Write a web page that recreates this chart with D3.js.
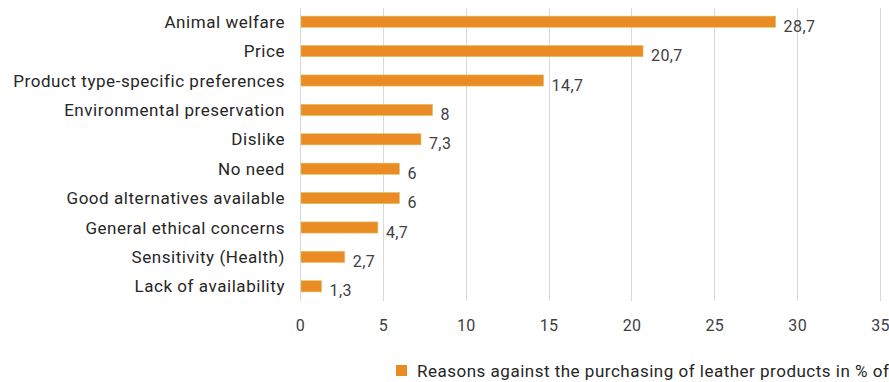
<!DOCTYPE html>
<html>
<head>
<meta charset="utf-8">
<script src="https://cdn.jsdelivr.net/npm/d3@7"></script>
<style>
  html, body { margin: 0; padding: 0; background: #ffffff; }
  svg { display: block; font-family: Roboto, "Noto Sans", sans-serif; }
</style>
</head>
<body>
<svg id="chart" width="889" height="382"></svg>
<script>
// Reasons against buying leather products (% of respondents)
const categories = [
  "Animal welfare",
  "Price",
  "Product type-specific preferences",
  "Environmental preservation",
  "Dislike",
  "No need",
  "Good alternatives available",
  "General ethical concerns",
  "Sensitivity (Health)",
  "Lack of availability"
];
const values = [28.7, 20.7, 14.7, 8, 7.3, 6, 6, 4.7, 2.7, 1.3];
const valueLabels = ["28,7", "20,7", "14,7", "8", "7,3", "6", "6", "4,7", "2,7", "1,3"];
const xTicks = [0, 5, 10, 15, 20, 25, 30, 35];
const seriesName = "Reasons against the purchasing of leather products in % of respondents";

const svg = d3.select("#chart");
const margin = { left: 300, top: 7, bottom: 301 };

const x = d3.scaleLinear().domain([0, 35]).range([300, 880]);
const y = d3.scaleBand().domain(categories).range([margin.top, margin.bottom]).paddingInner(0.62).paddingOuter(0.31);

// vertical gridlines
svg.append("g")
  .selectAll("line")
  .data(xTicks)
  .join("line")
  .attr("x1", d => Math.round(x(d)) + 0.5)
  .attr("x2", d => Math.round(x(d)) + 0.5)
  .attr("y1", 8)
  .attr("y2", 301)
  .attr("stroke", "#d9d9d9")
  .attr("stroke-width", 1);

// x axis tick labels
const xAxis = d3.axisBottom(x).tickValues(xTicks).tickSize(0).tickPadding(0).tickFormat(d3.format("d"));
const gx = svg.append("g").attr("transform", "translate(0,320)").call(xAxis);
gx.select(".domain").remove();
gx.selectAll("text")
  .attr("font-size", 16)
  .attr("letter-spacing", "0.3px")
  .attr("fill", "#404040")
  .attr("font-family", "Roboto, sans-serif");

// category labels
const yAxis = d3.axisLeft(y).tickSize(0).tickPadding(15);
const gy = svg.append("g").attr("transform", "translate(300,0)").call(yAxis);
gy.select(".domain").remove();
gy.selectAll("text")
  .attr("font-size", 17)
  .attr("letter-spacing", "0.55px")
  .attr("fill", "#262626")
  .attr("font-family", "Roboto, sans-serif")
  .attr("dy", "0.36em");

// bars
svg.append("g")
  .selectAll("rect")
  .data(values)
  .join("rect")
  .attr("x", x(0) + 1)
  .attr("y", (d, i) => y(categories[i]))
  .attr("width", d => x(d) - x(0) - 1)
  .attr("height", y.bandwidth())
  .attr("fill", "#ea8c23")
  .attr("stroke", "#d8c46a")
  .attr("stroke-width", 0.6);

// value labels
svg.append("g")
  .selectAll("text")
  .data(values)
  .join("text")
  .attr("x", d => x(d) + 8)
  .attr("y", (d, i) => y(categories[i]) + y.bandwidth() / 2 + 10)
  .attr("font-size", 16)
  .attr("letter-spacing", "0.4px")
  .attr("fill", "#404040")
  .text((d, i) => valueLabels[i]);

// legend
const legend = svg.append("g").attr("transform", "translate(396,365)");
legend.append("rect").attr("width", 11).attr("height", 11).attr("fill", "#ea8c23");
legend.append("text")
  .attr("x", 21)
  .attr("y", 12)
  .attr("font-size", 17)
  .attr("letter-spacing", "0.5px")
  .attr("fill", "#262626")
  .text(seriesName);
</script>
</body>
</html>
